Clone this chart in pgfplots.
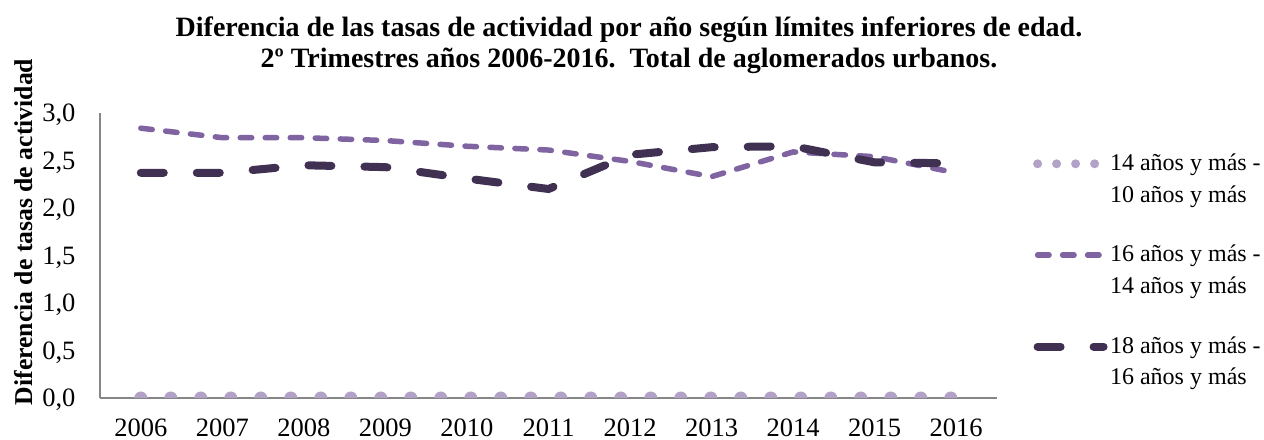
\documentclass[border=0pt]{standalone}
\usepackage{fontspec}
\setmainfont{Liberation Serif}
\usepackage{pgfplots}
\pgfplotsset{compat=1.18}
\definecolor{c1}{HTML}{B3A2C7}
\definecolor{c2}{HTML}{8064A2}
\definecolor{c3}{HTML}{403152}
\definecolor{axgray}{HTML}{868686}
\newcommand\lgtwo[2]{\begin{tabular}{@{}l@{}}#1\\[0.5bp]#2\end{tabular}}
\begin{document}
\begin{tikzpicture}[x=1bp,y=1bp]
\useasboundingbox (0,0) rectangle (1264,440);
\node[font=\fontsize{28bp}{30bp}\selectfont\bfseries, anchor=base, inner sep=0pt] at (629,403) {Diferencia de las tasas de actividad por año según límites inferiores de edad.};
\node[font=\fontsize{28bp}{30bp}\selectfont\bfseries, anchor=base, inner sep=0pt] at (629,372) {2º Trimestres años 2006-2016.\ \ Total de aglomerados urbanos.};
\node[font=\fontsize{25.7bp}{28bp}\selectfont\bfseries, rotate=90, anchor=base, inner sep=0pt] at (32,208) {Diferencia de tasas de actividad};
\begin{axis}[
  at={(100bp,42bp)}, anchor=south west, scale only axis,
  width=897bp, height=285bp,
  xmin=-0.5, xmax=10.5, ymin=0, ymax=3,
  axis x line*=bottom, axis y line*=left,
  axis line style={axgray, line width=1.5bp, -},
  xtick={0,1,2,3,4,5,6,7,8,9,10},
  xticklabels={2006,2007,2008,2009,2010,2011,2012,2013,2014,2015,2016},
  ytick={0,0.5,1,1.5,2,2.5,3},
  yticklabels={{0,0},{0,5},{1,0},{1,5},{2,0},{2,5},{3,0}},
  major tick length=0pt,
  tick label style={font=\fontsize{26.5bp}{30bp}\selectfont},
  xticklabel style={inner sep=0pt, yshift=-21bp},
  yticklabel style={xshift=-21bp, yshift=-2bp},
  legend style={at={(axis description cs:1.04,0.882)}, anchor=north west,
    draw=none, fill=none, inner sep=0pt, row sep=48.5bp,
    font=\fontsize{24bp}{31bp}\selectfont, cells={anchor=west}},
  legend image code/.code={\draw[#1] (4bp,4.5bp) -- (70bp,4.5bp);},
]
\addplot[c1, line width=13bp, line cap=round, dash pattern=on 0bp off 30bp,
  legend image post style={line width=9bp, dash pattern=on 0bp off 19bp}]
  coordinates {(0,0) (1,0) (2,0) (3,0) (4,0) (5,0) (6,0) (7,0) (8,0) (9,0) (10,0)};
\addlegendentry{\lgtwo{14 años y más -}{10 años y más}}
\addplot[c2, line width=5.5bp, line cap=round, dash pattern=on 11.5bp off 13.5bp]
  coordinates {(0,2.84) (1,2.74) (2,2.74) (3,2.71) (4,2.65) (5,2.61) (6,2.49) (7,2.33) (8,2.59) (9,2.54) (10,2.37)};
\addlegendentry{\lgtwo{16 años y más -}{14 años y más}}
\addplot[c3, line width=8bp, line cap=round, dash pattern=on 23bp off 33bp]
  coordinates {(0,2.37) (1,2.37) (2,2.45) (3,2.43) (4,2.31) (5,2.20) (6,2.56) (7,2.64) (8,2.65) (9,2.48) (10,2.47)};
\addlegendentry{\lgtwo{18 años y más -}{16 años y más}}
\end{axis}
\end{tikzpicture}
\end{document}
